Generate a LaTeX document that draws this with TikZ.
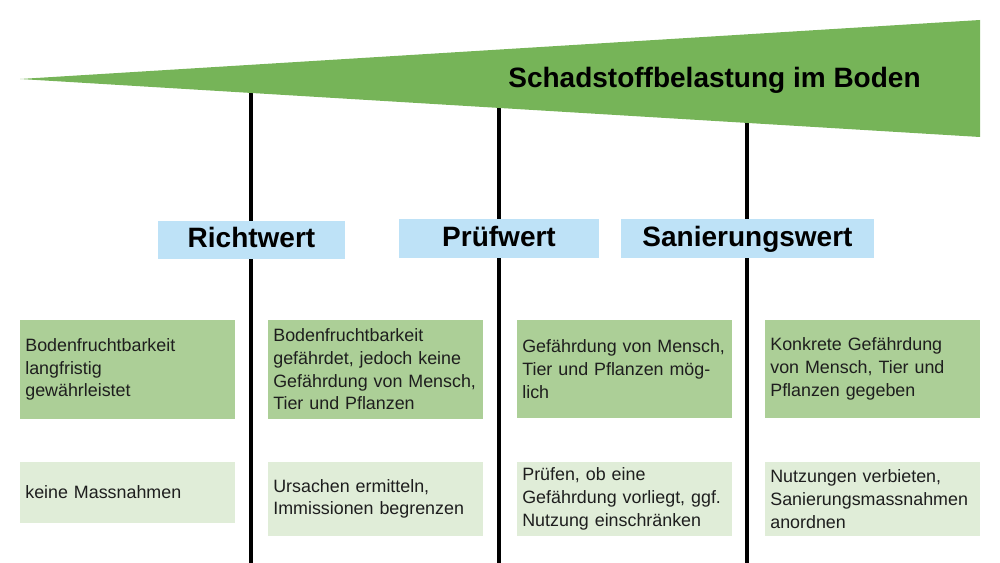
\documentclass[tikz,border=0pt]{standalone}
\usepackage{fontspec}
\setmainfont{Liberation Sans}
\usepackage{tikz}

\definecolor{wedgegreen}{RGB}{118,180,88}
\definecolor{boxgreen}{RGB}{172,207,151}
\definecolor{palegreen}{RGB}{224,237,216}
\definecolor{labelblue}{RGB}{190,226,247}
\definecolor{textgray}{RGB}{30,30,30}
\newcommand{\boxfont}{\fontsize{13.4pt}{17pt}\selectfont\hyphenpenalty=10000\relax}

\begin{document}
\begin{tikzpicture}[x=0.75pt,y=0.75pt,yscale=-1,xscale=1,
  greenbox/.style={fill=boxgreen, text=textgray, minimum width=161.25pt, inner xsep=4pt, text width=153.25pt, align=left, font=\boxfont},
  palebox/.style={greenbox, fill=palegreen},
  bluelabel/.style={fill=labelblue, text=black, font=\fontsize{21pt}{24pt}\selectfont\bfseries, text height=15.75pt, text depth=4.2pt, minimum height=29pt}]
\useasboundingbox (0,0) rectangle (1000,563);

%Straight Lines
\coordinate (topA) at (251,90);  \coordinate (botA) at (251,563);
\coordinate (topB) at (499,90);  \coordinate (botB) at (499,563);
\coordinate (topC) at (747,90);  \coordinate (botC) at (747,563);
\draw [line width=3pt] (topA) -- (botA);
\draw [line width=3pt] (topB) -- (botB);
\draw [line width=3pt] (topC) -- (botC);

% Wedge
\fill [wedgegreen] (20,79) -- (980,20) -- (980,137) -- cycle;
\draw (714.5,88) node [anchor=base, font=\fontsize{21pt}{24pt}\selectfont\bfseries] (title) {Schadstoffbelastung im Boden};

% Text Node
\draw (251.5,240) node [bluelabel, minimum width=140.25pt] (richt) {Richtwert};
% Text Node
\draw (499,238.5) node [bluelabel, minimum width=150pt] (pruef) {Prüfwert};
% Text Node
\draw (747.5,238.5) node [bluelabel, minimum width=189.75pt] (sanier) {Sanierungswert};

% Text Node
\draw (127.5,369.5) node [greenbox, minimum height=74.25pt] (stateA) {Bodenfruchtbarkeit\\langfristig\\gewährleistet};
% Text Node
\draw (375.5,369.5) node [greenbox, minimum height=74.25pt] (stateB) {Bodenfruchtbarkeit\\gefährdet, jedoch keine\\Gefährdung von Mensch,\\Tier und Pflanzen};
% Text Node
\draw (624.5,369) node [greenbox, minimum height=73.5pt] (stateC) {Gefährdung von Mensch,\\Tier und Pflanzen mög-\\lich};
% Text Node
\draw (872.5,369) node [greenbox, minimum height=73.5pt] (stateD) {Konkrete Gefährdung\\von Mensch, Tier und\\Pflanzen gegeben};

% Text Node
\draw (127.5,492.5) node [palebox, minimum height=45.75pt] (actA) {keine Massnahmen};
% Text Node
\draw (375.5,499) node [palebox, minimum height=55.5pt] (actB) {Ursachen ermitteln,\\Immissionen begrenzen};
% Text Node
\draw (624.5,499) node [palebox, minimum height=55.5pt] (actC) {Prüfen, ob eine\\Gefährdung vorliegt, ggf.\\Nutzung einschränken};
% Text Node
\draw (872.5,499) node [palebox, minimum height=55.5pt] (actD) {Nutzungen verbieten,\\Sanierungsmassnahmen\\anordnen};

\end{tikzpicture}
\end{document}
